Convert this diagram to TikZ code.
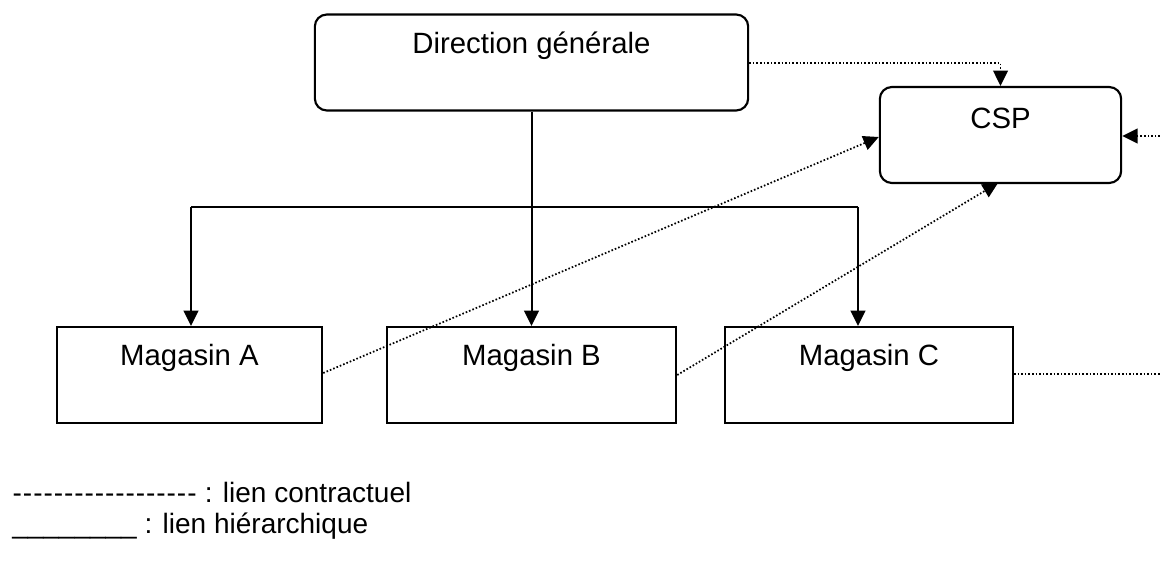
\documentclass[tikz,border=0pt]{standalone}
\usepackage{fontspec}
\setmainfont{Liberation Sans}[Ligatures=TeXOff]
\usetikzlibrary{arrows.meta}

% a run of evenly spaced hyphens for the legend
\newcommand\hyphenrun[1]{\foreach \k in {1,...,#1}{\makebox[7.7pt]{-}}}

\begin{document}
\begin{tikzpicture}[x=0.75pt,y=-0.75pt,
  font=\fontsize{22}{26}\selectfont,
  unit/.style={draw, line width=1.6pt, inner sep=0pt, minimum height=72pt},
  roundunit/.style={unit, rounded corners=9pt},
  boxtext/.style={anchor=center, yshift=-24pt},
  hier/.style={line width=1.5pt, -{Triangle[length=11.5pt,width=11pt]}},
  contract/.style={line width=1.3pt, dash pattern=on 1.2pt off 1.5pt,
                   -{Triangle[length=11.5pt,width=11pt]}},
  contractline/.style={line width=1.3pt, dash pattern=on 1.2pt off 1.5pt},
  legend/.style={anchor=base west, inner sep=0pt,
                 font=\fontsize{21}{25}\selectfont}]

  \useasboundingbox (0,0) rectangle (1160,563);

  % units of the organisation
  \node[roundunit, minimum width=325pt,
        label={[boxtext]north:Direction générale}] (dg) at (531.5,62.5) {};
  \node[roundunit, minimum width=181pt,
        label={[boxtext]north:CSP}] (csp) at (1000.5,135) {};
  \node[unit, minimum width=199pt,
        label={[boxtext]north:Magasin A}] (ma) at (189.5,375) {};
  \node[unit, minimum width=217pt,
        label={[boxtext]north:Magasin B}] (mb) at (531.5,375) {};
  \node[unit, minimum width=216pt,
        label={[boxtext]north:Magasin C}] (mc) at (869,375) {};

  % hierarchical links
  \coordinate (busL) at (191,207);
  \coordinate (busR) at (858,207);
  \draw[line width=1.9pt] (busL) -- (busR);
  \draw[hier] (dg.south) -- (mb.north);
  \draw[hier] (busL) -- (busL |- ma.north);
  \draw[hier] (busR) -- (busR |- mc.north);

  % contractual links
  \coordinate (dgout) at (748,63);
  \coordinate (cspin) at (1160,136);
  \coordinate (mcout) at (1160,374);
  \draw[contract] (dg.east |- dgout) -| (csp.north);
  \draw[contract] (ma.east |- 0,373) -- (csp.west |- 0,137);
  \draw[contract] (mb.east |- 0,375) -- (998,183);
  \draw[contract] (cspin) -- (csp.east |- cspin);
  \draw[contractline] (mc.east |- mcout) -- (mcout);

  % legend
  \node[legend] (leg1) at (12,502) {\hyphenrun{18} : lien contractuel};
  \node[legend] (leg2) at (12,533) {\_\_\_\_\_\_\_\_ : lien hiérarchique};
\end{tikzpicture}
\end{document}
